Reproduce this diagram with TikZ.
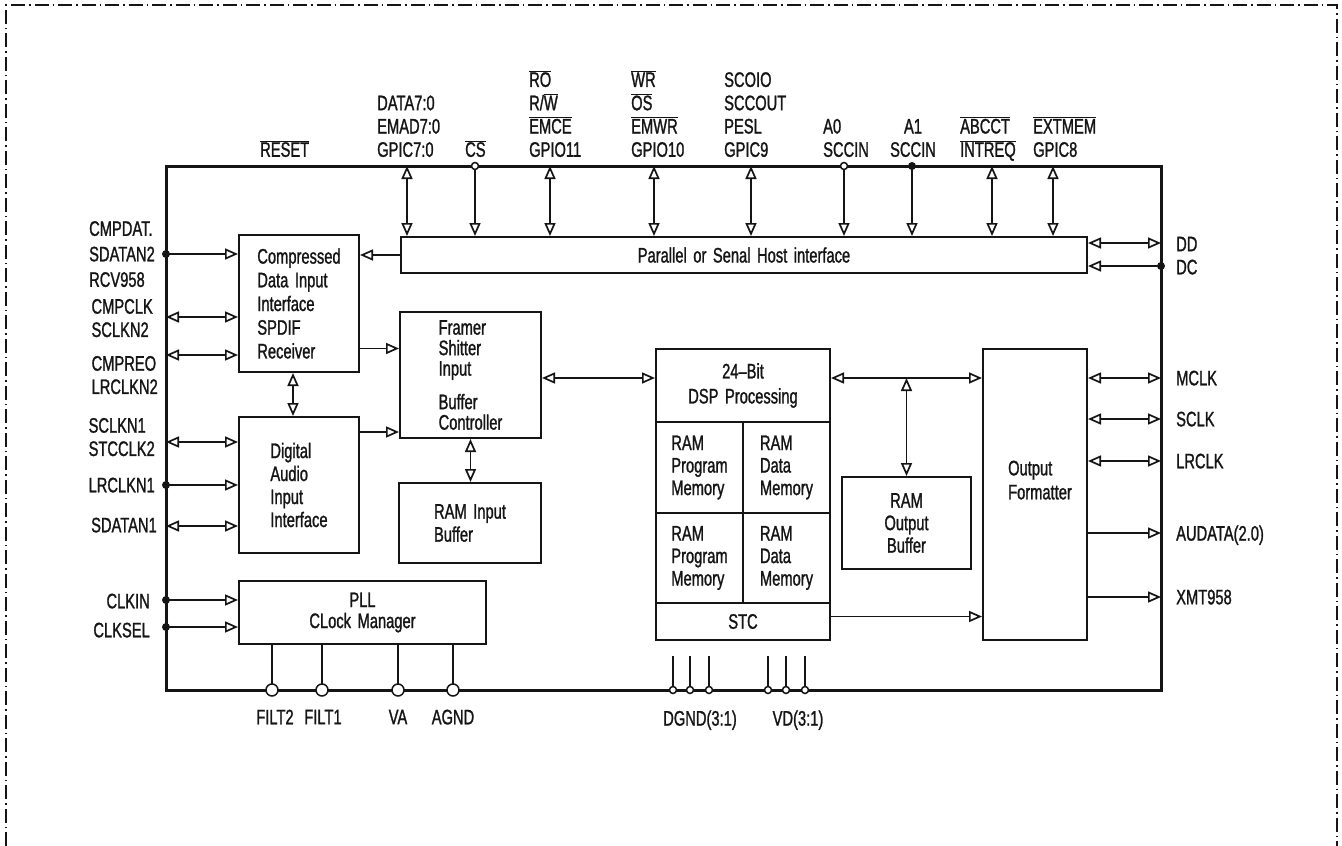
\documentclass[tikz,border=0pt]{standalone}
\usepackage{fontspec}
\setmainfont{Liberation Sans}[FakeStretch=0.7,FakeBold=1.2,WordSpace=1.6]
\usetikzlibrary{arrows.meta}
\definecolor{ChipInk}{HTML}{151515}
\newcommand{\ovl}[1]{$\overline{\mbox{#1}}$}

\begin{document}
\begin{tikzpicture}[x=1pt,y=-1pt,>={Triangle[open,length=13pt,width=11pt]}]
\tikzset{
  block/.style={draw=ChipInk,line width=2pt,inner sep=0pt,align=left,text=ChipInk,font=\fontsize{21}{23}\selectfont},
  pinlabel/.style={inner sep=0pt,text depth=0pt,align=left,text=ChipInk,font=\fontsize{21}{23.3}\selectfont},
  sig/.style={draw=ChipInk,line width=1.7pt},
  dot/.style={circle,fill=ChipInk,inner sep=0pt,minimum size=8pt},
  ring/.style={circle,draw=ChipInk,fill=white,line width=1.5pt,inner sep=0pt,minimum size=7pt},
  bigring/.style={ring,minimum size=12pt}
}
\useasboundingbox (0,0) rectangle (1342,846);

% outer frame
\coordinate (frameBL) at (6,846);
\coordinate (frameTL) at (6,5);
\coordinate (frameTR) at (1337,5);
\coordinate (frameBR) at (1337,846);
\draw[ChipInk,line width=1.3pt,dash pattern=on 14pt off 4pt on 1.5pt off 4pt] (frameBL) -- (frameTL) -- (frameTR) -- (frameBR);

% chip outline
\node[draw=ChipInk,line width=3pt,minimum width=995pt,minimum height=524pt,inner sep=0pt] (chip) at (663.5,428) {};

% blocks
\node[block,minimum width=686pt,minimum height=36pt,align=center] (host) at (744,255) {Parallel or Senal Host interface};
\node[block,minimum width=120pt,minimum height=137pt,font=\fontsize{21}{23.7}\selectfont] (cdi) at (299,303.5) {Compressed\\Data Input\\Interface\\SPDIF\\Receiver};
\node[block,minimum width=120pt,minimum height=136pt] (dai) at (299,485) {Digital\\Audio\\Input\\Interface};
\node[block,minimum width=141pt,minimum height=126pt,font=\fontsize{21}{20.5}\selectfont] (framer) at (470.5,375) {Framer\\Shitter\\Input\\[13pt]Buffer\\Controller};
\node[block,minimum width=142pt,minimum height=80pt] (ibuf) at (470,523) {RAM Input\\Buffer};
\node[block,minimum width=247pt,minimum height=63pt,align=center,font=\fontsize{21}{21}\selectfont] (pll) at (362.5,612.5) {PLL\\CLock Manager};
\node[block,minimum width=174pt,minimum height=73pt,align=center,font=\fontsize{21}{25}\selectfont] (dsp) at (743,385.5) {24--Bit\\DSP Processing};
\node[block,minimum width=87pt,minimum height=91pt,font=\fontsize{21}{22.5}\selectfont] (ramp1) at (699.5,467.5) {RAM\\Program\\Memory};
\node[block,minimum width=87pt,minimum height=91pt,font=\fontsize{21}{22.5}\selectfont] (ramd1) at (786.5,467.5) {RAM\\Data\\Memory};
\node[block,minimum width=87pt,minimum height=90pt,font=\fontsize{21}{22.5}\selectfont] (ramp2) at (699.5,558) {RAM\\Program\\Memory};
\node[block,minimum width=87pt,minimum height=90pt,font=\fontsize{21}{22.5}\selectfont] (ramd2) at (786.5,558) {RAM\\Data\\Memory};
\node[block,minimum width=174pt,minimum height=37pt] (stc) at (743,621.5) {STC};
\node[block,minimum width=129pt,minimum height=92pt,align=center,font=\fontsize{21}{22.5}\selectfont] (obuf) at (906.5,523) {RAM\\Output\\Buffer};
\node[block,minimum width=104pt,minimum height=291pt] (fmt) at (1035,494.5) {};
\node[pinlabel,font=\fontsize{21}{24}\selectfont] (fmttext) at (1040,480) {Output\\Formatter};

% internal buses
\draw[sig,->] (host.west) -- (host.west -| cdi.east);
\draw[sig,->] ([yshift=-45pt]cdi.east) -- ([yshift=-45pt]cdi.east -| framer.west);
\draw[sig,->] ([yshift=53pt]dai.east) -- ([yshift=53pt]dai.east -| framer.west);
\draw[sig,<->] ([xshift=-6pt]cdi.south) -- ([xshift=-6pt]cdi.south |- dai.north);
\draw[sig,<->] (framer.south) -- (framer.south |- ibuf.north);
\draw[sig,<->] ([yshift=-3pt]framer.east) -- ([yshift=-3pt]framer.east -| dsp.west);
\coordinate (pMCLK) at (1161,378);
\draw[sig,<->] (dsp.east |- pMCLK) -- (fmt.west |- pMCLK);
\draw[sig,<->] (obuf.north |- pMCLK) -- (obuf.north);
\draw[sig,->] ([yshift=5pt]stc.east) -- ([yshift=5pt]stc.east -| fmt.west);

% left pins
\coordinate (pCMPDAT) at (166,254);
\coordinate (pCMPCLK) at (166,317);
\coordinate (pCMPREO) at (166,355);
\coordinate (pSCLKN1) at (166,442);
\coordinate (pLRCLKN1) at (166,485);
\coordinate (pSDATAN1) at (166,526);
\coordinate (pCLKIN) at (166,600);
\coordinate (pCLKSEL) at (166,627);
\draw[sig,->] (pCMPDAT) -- (pCMPDAT -| cdi.west);
\draw[sig,<->] (pCMPCLK) -- (pCMPCLK -| cdi.west);
\draw[sig,<->] (pCMPREO) -- (pCMPREO -| cdi.west);
\draw[sig,<->] (pSCLKN1) -- (pSCLKN1 -| dai.west);
\draw[sig,->] (pLRCLKN1) -- (pLRCLKN1 -| dai.west);
\draw[sig,<->] (pSDATAN1) -- (pSDATAN1 -| dai.west);
\draw[sig,->] (pCLKIN) -- (pCLKIN -| pll.west);
\draw[sig,->] (pCLKSEL) -- (pCLKSEL -| pll.west);
\node[dot] at (pCMPDAT) {};
\node[dot] at (pLRCLKN1) {};
\node[dot] at (pCLKIN) {};
\node[dot] at (pCLKSEL) {};
\node[pinlabel,anchor=east,font=\fontsize{21}{25.5}\selectfont] (lCMPDAT) at (155,254) {CMPDAT.\\SDATAN2\\RCV958};
\node[pinlabel,anchor=east] (lCMPCLK) at (153,318) {CMPCLK\\SCLKN2};
\node[pinlabel,anchor=east] (lCMPREO) at (158,375) {CMPREO\\LRCLKN2};
\node[pinlabel,anchor=east] (lSCLKN1) at (155,437) {SCLKN1\\STCCLK2};
\node[pinlabel,anchor=east] (lLRCLKN1) at (155,485) {LRCLKN1};
\node[pinlabel,anchor=east] (lSDATAN1) at (157,525) {SDATAN1};
\node[pinlabel,anchor=east] (lCLKIN) at (150,601) {CLKIN};
\node[pinlabel,anchor=east] (lCLKSEL) at (150,630) {CLKSEL};

% top pins
\coordinate (pDATA) at (407,166);
\coordinate (pCS) at (475,166);
\coordinate (pGPIO11) at (550,166);
\coordinate (pGPIO10) at (654,166);
\coordinate (pGPIC9) at (751,166);
\coordinate (pA0) at (844,166);
\coordinate (pA1) at (912,166);
\coordinate (pINTREQ) at (992,166);
\coordinate (pGPIC8) at (1053,166);
\draw[sig,<->] (pDATA) -- (pDATA |- host.north);
\draw[sig,->] (pCS) -- (pCS |- host.north);
\draw[sig,<->] (pGPIO11) -- (pGPIO11 |- host.north);
\draw[sig,<->] (pGPIO10) -- (pGPIO10 |- host.north);
\draw[sig,<->] (pGPIC9) -- (pGPIC9 |- host.north);
\draw[sig,->] (pA0) -- (pA0 |- host.north);
\draw[sig,->] (pA1) -- (pA1 |- host.north);
\draw[sig,<->] (pINTREQ) -- (pINTREQ |- host.north);
\draw[sig,<->] (pGPIC8) -- (pGPIC8 |- host.north);
\node[ring] at (pCS) {};
\node[ring] at (pA0) {};
\node[dot] at (pA1) {};
\node[pinlabel,anchor=south west] (lRESET) at (260,157) {\ovl{RESET}};
\node[pinlabel,anchor=south west] (lDATA) at (377,157) {DATA7:0\\EMAD7:0\\GPIC7:0};
\node[pinlabel,anchor=south west] (lCS) at (465,157) {\ovl{CS}};
\node[pinlabel,anchor=south west] (lGPIO11) at (529,157) {\ovl{RO}\\R/\ovl{W}\\\ovl{EMCE}\\GPIO11};
\node[pinlabel,anchor=south west] (lGPIO10) at (631,157) {\ovl{WR}\\\ovl{OS}\\\ovl{EMWR}\\GPIO10};
\node[pinlabel,anchor=south west] (lGPIC9) at (724,157) {SCOIO\\SCCOUT\\PESL\\GPIC9};
\node[pinlabel,anchor=south west] (lA0) at (823,157) {A0\\SCCIN};
\node[pinlabel,anchor=south,align=center] (lA1) at (913,157) {A1\\SCCIN};
\node[pinlabel,anchor=south west] (lINTREQ) at (960,157) {\ovl{ABCCT}\\\ovl{INTREQ}};
\node[pinlabel,anchor=south west] (lGPIC8) at (1033,157) {\ovl{EXTMEM}\\GPIC8};

% right pins
\coordinate (pDD) at (1161,243);
\coordinate (pDC) at (1161,266);
\coordinate (pSCLK) at (1161,419);
\coordinate (pLRCLK) at (1161,461);
\coordinate (pAUDATA) at (1161,533);
\coordinate (pXMT) at (1161,597);
\draw[sig,<->] (pDD -| host.east) -- (pDD);
\draw[sig,->] (pDC) -- (pDC -| host.east);
\node[dot] at (pDC) {};
\draw[sig,<->] (pMCLK -| fmt.east) -- (pMCLK);
\draw[sig,<->] (pSCLK -| fmt.east) -- (pSCLK);
\draw[sig,<->] (pLRCLK -| fmt.east) -- (pLRCLK);
\draw[sig,->] (pAUDATA -| fmt.east) -- (pAUDATA);
\draw[sig,->] (pXMT -| fmt.east) -- (pXMT);
\node[pinlabel,anchor=west] (lDD) at (1176,244) {DD};
\node[pinlabel,anchor=west] (lDC) at (1176,267) {DC};
\node[pinlabel,anchor=west] (lMCLK) at (1176,378) {MCLK};
\node[pinlabel,anchor=west] (lSCLK) at (1176,419) {SCLK};
\node[pinlabel,anchor=west] (lLRCLK) at (1176,461) {LRCLK};
\node[pinlabel,anchor=west] (lAUDATA) at (1176,533) {AUDATA(2.0)};
\node[pinlabel,anchor=west] (lXMT) at (1176,597) {XMT958};

% bottom pins
\coordinate (pFILT2) at (272,690);
\coordinate (pFILT1) at (322,690);
\coordinate (pVA) at (398,690);
\coordinate (pAGND) at (453,690);
\draw[sig] (pFILT2 |- pll.south) -- (pFILT2);
\draw[sig] (pFILT1 |- pll.south) -- (pFILT1);
\draw[sig] (pVA |- pll.south) -- (pVA);
\draw[sig] (pAGND |- pll.south) -- (pAGND);
\node[bigring] at (pFILT2) {};
\node[bigring] at (pFILT1) {};
\node[bigring] at (pVA) {};
\node[bigring] at (pAGND) {};
\node[pinlabel] (lFILT2) at (275,717) {FILT2};
\node[pinlabel] (lFILT1) at (323,717) {FILT1};
\node[pinlabel] (lVA) at (398,717) {VA};
\node[pinlabel] (lAGND) at (453,717) {AGND};

\coordinate (pG1) at (673,690); \coordinate (tG1) at (673,656);
\coordinate (pG2) at (690,690); \coordinate (tG2) at (690,656);
\coordinate (pG3) at (709,690); \coordinate (tG3) at (709,656);
\coordinate (pV1) at (768,690); \coordinate (tV1) at (768,656);
\coordinate (pV2) at (786,690); \coordinate (tV2) at (786,656);
\coordinate (pV3) at (805,690); \coordinate (tV3) at (805,656);
\draw[sig] (tG1) -- (pG1);
\draw[sig] (tG2) -- (pG2);
\draw[sig] (tG3) -- (pG3);
\draw[sig] (tV1) -- (pV1);
\draw[sig] (tV2) -- (pV2);
\draw[sig] (tV3) -- (pV3);
\node[ring] at (pG1) {};
\node[ring] at (pG2) {};
\node[ring] at (pG3) {};
\node[ring] at (pV1) {};
\node[ring] at (pV2) {};
\node[ring] at (pV3) {};
\node[pinlabel] (lDGND) at (700,718) {DGND(3:1)};
\node[pinlabel] (lVD) at (798,718) {VD(3:1)};
\end{tikzpicture}
\end{document}
